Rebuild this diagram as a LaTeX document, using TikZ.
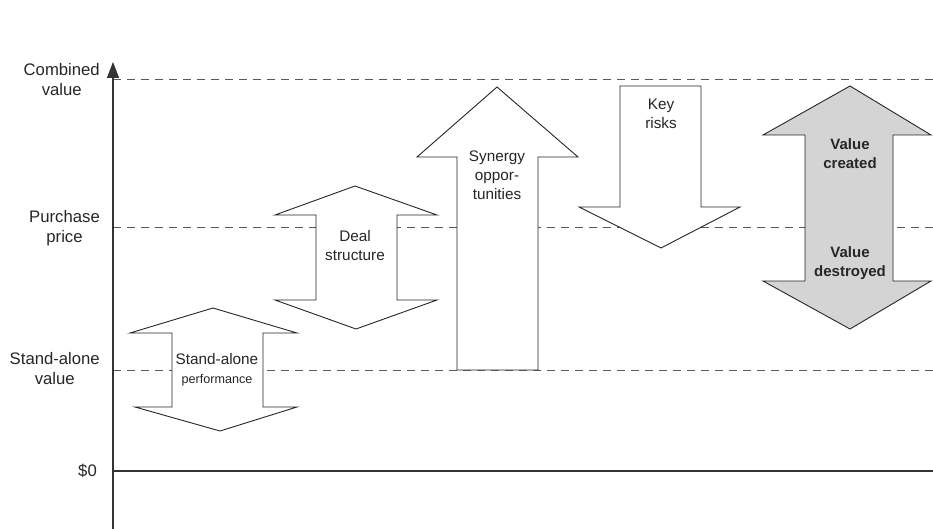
\documentclass[tikz,border=0pt]{standalone}
\usepackage{fontspec}
\setmainfont{Liberation Sans}
\usetikzlibrary{arrows.meta}
\tikzset{
  vaxis/.style={line width=1.2pt, draw=black!80, -{Triangle[width=12pt, length=16pt]}},
  vlevel/.style={draw=black!65, line width=1pt, dash pattern=on 8pt off 6pt},
  vzero/.style={draw=black!80, line width=1.2pt},
  vblock/.style={draw=black!85, line width=0.9pt, fill=white, line join=miter},
  vgray/.style={vblock, fill=black!17},
  vlabel/.style={align=center, anchor=east, font=\fontsize{16.7}{20}\selectfont, text=black!85, inner sep=0pt},
  vinner/.style={align=center, font=\fontsize{15.3}{19}\selectfont, text=black!85, inner sep=0pt},
  vbold/.style={vinner, font=\fontsize{15}{19}\selectfont\bfseries},
}

\begin{document}
\begin{tikzpicture}[x=1pt, y=-1pt]
  \useasboundingbox (0,0) rectangle (933,529);

  % Axis and value levels.
  \coordinate (ax_bot) at (113,529);
  \coordinate (ax_top) at (113,62);
  \coordinate (comb_l) at (113,80);
  \coordinate (comb_r) at (933,80);
  \coordinate (price_l) at (113,228);
  \coordinate (price_r) at (933,228);
  \coordinate (alone_l) at (113,370);
  \coordinate (alone_r) at (933,370);
  \coordinate (zero_l) at (113,471);
  \coordinate (zero_r) at (933,471);

  \draw[vlevel] (comb_l) -- (comb_r);
  \draw[vlevel] (price_l) -- (price_r);
  \draw[vlevel] (alone_l) -- (alone_r);
  \draw[vzero] (zero_l) -- (zero_r);
  \draw[vaxis] (ax_bot) -- (ax_top);

  % Level labels.
  \node[vlabel] (comb) at (100,80) {Combined\\value};
  \node[vlabel] (price) at (100,228) {Purchase\\price};
  \node[vlabel] (alone) at (100,369) {Stand-alone\\value};
  \node[vlabel] (zero) at (97,471) {\$0};

  % Block arrows.
  \draw[vblock] (213,308) -- (297,333) -- (263,333) -- (263,407) -- (297,407)
    -- (220,431) -- (135,407) -- (172,407) -- (172,333) -- (130,333) -- cycle;
  \draw[vblock] (355,186) -- (437,215) -- (397,215) -- (397,300) -- (437,300)
    -- (356,329) -- (275,300) -- (316,300) -- (316,215) -- (275,215) -- cycle;
  \draw[vblock] (497,87) -- (578,157) -- (538,157) -- (538,370) -- (457,370)
    -- (457,157) -- (417,157) -- cycle;
  \draw[vblock] (620,86) -- (701,86) -- (701,207) -- (740,207) -- (661,248)
    -- (579,207) -- (620,207) -- cycle;
  \draw[vgray] (850,86) -- (931,135) -- (893,135) -- (893,281) -- (931,281)
    -- (850,329) -- (763,281) -- (805,281) -- (805,135) -- (763,135) -- cycle;

  % Arrow texts.
  \node[vinner] (perf) at (217,370) {Stand-alone\\{\fontsize{12.6}{15}\selectfont performance}};
  \node[vinner] (deal) at (355,246) {Deal\\structure};
  \node[vinner] (syn) at (497,175) {Synergy\\oppor-\\tunities};
  \node[vinner] (risk) at (661,114) {Key\\risks};
  \node[vbold] (created) at (850,154) {Value\\created};
  \node[vbold] (destroyed) at (850,263) {Value\\destroyed};
\end{tikzpicture}
\end{document}
